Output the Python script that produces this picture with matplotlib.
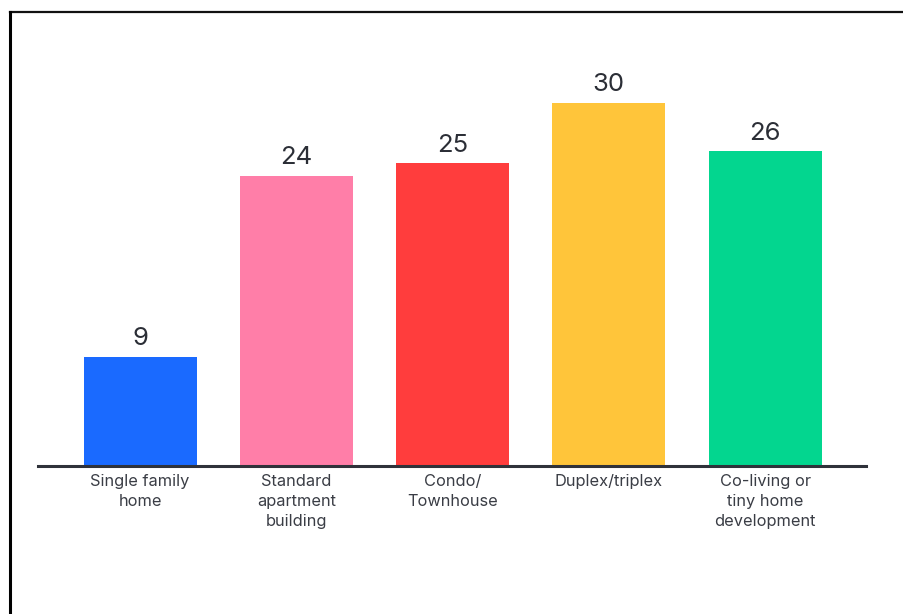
import matplotlib
matplotlib.use("Agg")
import matplotlib.pyplot as plt
from matplotlib.lines import Line2D

categories = ["Single family\nhome", "Standard\napartment\nbuilding", "Condo/\nTownhouse",
              "Duplex/triplex", "Co-living or\ntiny home\ndevelopment"]
values = [9, 24, 25, 30, 26]
colors = ["#1A6AFF", "#FF7EA8", "#FF3D3D", "#FFC53A", "#03D68F"]

plt.rcParams['font.family'] = ['Inter', 'DejaVu Sans']

fig = plt.figure(figsize=(9.04, 6.14), dpi=100)
# axes placed so baseline sits near the bottom third
ax = fig.add_axes([38 / 904, (614 - 466) / 614, 828 / 904, 426 / 614])

x = list(range(len(values)))
bars = ax.bar(x, values, width=0.723, color=colors)
ax.set_xlim(-0.653, 4.645)
ax.set_ylim(0, 35.2)

for b, v in zip(bars, values):
    ax.text(b.get_x() + b.get_width() / 2, v + 0.55, str(v), ha='center', va='bottom',
            fontsize=18.5, color='#2b2e36')

ax.set_xticks(x)
ax.set_xticklabels(categories, fontsize=11.8, color='#3a3d45', linespacing=1.42, va='top')
ax.tick_params(axis='x', length=0, pad=6)
ax.set_yticks([])
for s in ['top', 'right', 'left']:
    ax.spines[s].set_visible(False)
ax.spines['bottom'].set_color('#2f323a')
ax.spines['bottom'].set_linewidth(2.2)

# screenshot frame on top and left
fig.add_artist(Line2D([10 / 904, 1], [1 - 11.5 / 614, 1 - 11.5 / 614], color='#111111', lw=1.6,
                      transform=fig.transFigure))
fig.add_artist(Line2D([10 / 904, 10 / 904], [0, 1 - 11.5 / 614], color='#000000', lw=2.2,
                      transform=fig.transFigure))

fig.savefig("out.png", dpi=100)
